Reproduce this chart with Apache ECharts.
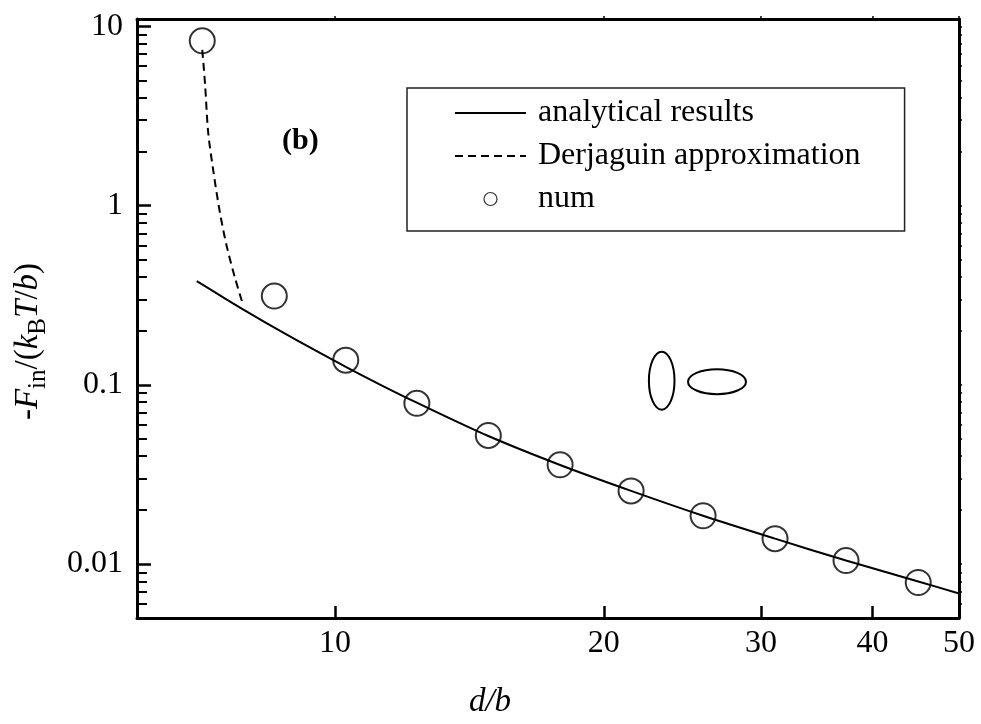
<!DOCTYPE html>
<html>
<head>
<meta charset="utf-8">
<title>-F_in/(k_B T/b) vs d/b</title>
<script src="https://cdn.jsdelivr.net/npm/echarts@6.0.0/dist/echarts.min.js"></script>
<style>
  html, body { margin: 0; padding: 0; background: #fff; }
  #chart { width: 981px; height: 724px; }
</style>
</head>
<body>
<div id="chart"></div>
<script>
// numerical points (circles)
const numX = [7.10, 8.55, 10.28, 12.35, 14.85, 17.87, 21.46, 25.84, 31.11, 37.36, 45.01]
const numY = [8.31, 0.313, 0.1373, 0.0789, 0.0522, 0.0358, 0.0256, 0.0186, 0.01386, 0.01046, 0.00789]

// analytical results (solid line)
const analyticalX = [7.00, 7.5, 8.0, 8.68, 9.45, 10.28, 11.23, 12.35, 14.85, 17.87, 21.46, 25.84, 31.11, 37.36, 45.01, 50]
const analyticalY = [0.379, 0.307, 0.253, 0.200, 0.158, 0.126, 0.1004, 0.0795, 0.0518, 0.0357, 0.0256, 0.0186, 0.01386, 0.01046, 0.0080, 0.00685]

// Derjaguin approximation (dashed line)
const derjaguinX = [7.10, 7.15, 7.21, 7.31, 7.43, 7.56, 7.73, 7.87]
const derjaguinY = [7.40, 4.83, 2.55, 1.53, 0.917, 0.598, 0.391, 0.290]

// ticks
const xTickValues = [10, 20, 30, 40, 50]
const yTickValues = [0.01, 0.1, 1, 10]
const yMinorTickValues = [0.006, 0.007, 0.008, 0.009,
  0.02, 0.03, 0.04, 0.05, 0.06, 0.07, 0.08, 0.09,
  0.2, 0.3, 0.4, 0.5, 0.6, 0.7, 0.8, 0.9,
  2, 3, 4, 5, 6, 7, 8, 9]

const FONT = '"Liberation Serif", "DejaVu Serif", serif'

const pairs = (xs, ys) => xs.map((x, i) => [x, ys[i]])

const chart = echarts.init(document.getElementById('chart'))

const axisLine = { show: true, lineStyle: { color: '#000', width: 3 } }

const option = {
  animation: false,
  backgroundColor: '#fff',
  title: {
    text: '(b)',
    left: 282,
    top: 126,
    padding: 0,
    textStyle: { fontFamily: FONT, fontSize: 30, fontWeight: 'bold', color: '#000' }
  },
  legend: {
    orient: 'vertical',
    left: 407,
    top: 88,
    selectedMode: false,
    borderColor: '#222',
    borderWidth: 1.5,
    padding: [9, 44, 16, 47],
    itemWidth: 71,
    itemHeight: 13,
    itemGap: 11,
    textStyle: { fontFamily: FONT, fontSize: 32, color: '#000', padding: [0, 0, 0, 7] },
    data: [
      { name: 'analytical results', itemStyle: { opacity: 0 } },
      { name: 'Derjaguin approximation', itemStyle: { opacity: 0 } },
      { name: 'num', icon: 'circle', itemStyle: { color: 'rgba(0,0,0,0)', borderColor: '#000', borderWidth: 1.2 } }
    ]
  },
  grid: { left: 137, right: 22, top: 19, bottom: 103, containLabel: false },
  xAxis: [
    {
      type: 'log',
      min: 6,
      max: 50,
      position: 'bottom',
      axisLine: axisLine,
      splitLine: { show: false },
      minorTick: { show: false },
      axisTick: { show: true, inside: true, length: 12, lineStyle: { color: '#000', width: 2.5 }, customValues: xTickValues },
      axisLabel: { customValues: xTickValues, margin: 10, fontFamily: FONT, fontSize: 32, color: '#000' },
      name: 'd/b',
      nameLocation: 'middle',
      nameGap: 68,
      nameTextStyle: { fontFamily: FONT, fontSize: 33, fontStyle: 'italic', color: '#000', padding: [0, 116, 0, 0] }
    },
    {
      type: 'log',
      min: 6,
      max: 50,
      position: 'top',
      axisLine: axisLine,
      splitLine: { show: false },
      axisTick: { show: true, inside: false, length: 3, lineStyle: { color: '#000', width: 1.5 }, customValues: xTickValues },
      axisLabel: { show: false }
    }
  ],
  yAxis: [
    {
      type: 'log',
      min: 0.005,
      max: 11,
      position: 'left',
      axisLine: axisLine,
      splitLine: { show: false },
      axisTick: { show: true, inside: true, length: 14, lineStyle: { color: '#000', width: 2.5 }, customValues: yTickValues },
      axisLabel: { customValues: yTickValues, margin: 14, fontFamily: FONT, fontSize: 32, color: '#000', formatter: v => String(v) },
      name: '{m|-}{i|F}{s|in}{m|/(}{i|k}{s|B}{i|T}{m|/}{i|b}{m|)}',
      nameLocation: 'middle',
      nameRotate: 90,
      nameGap: 92,
      nameTextStyle: {
        padding: [0, 46, 0, 0],
        rich: {
          m: { fontFamily: FONT, fontSize: 33, lineHeight: 33, verticalAlign: 'top', color: '#000' },
          i: { fontFamily: FONT, fontSize: 33, lineHeight: 33, verticalAlign: 'top', fontStyle: 'italic', color: '#000' },
          s: { fontFamily: FONT, fontSize: 25, lineHeight: 25, verticalAlign: 'top', padding: [14, 0, 0, 0], color: '#000' }
        }
      }
    },
    {
      type: 'log',
      min: 0.005,
      max: 11,
      position: 'left',
      axisLine: { show: false },
      splitLine: { show: false },
      axisTick: { show: true, inside: true, length: 10, lineStyle: { color: '#000', width: 2 }, customValues: yMinorTickValues },
      axisLabel: { show: false }
    },
    {
      type: 'log',
      min: 0.005,
      max: 11,
      position: 'right',
      axisLine: axisLine,
      splitLine: { show: false },
      axisTick: { show: true, inside: false, length: 3, lineStyle: { color: '#000', width: 1.5 }, customValues: yTickValues.concat(yMinorTickValues) },
      axisLabel: { show: false }
    }
  ],
  series: [
    {
      name: 'analytical results',
      type: 'line',
      xAxisIndex: 0,
      yAxisIndex: 0,
      data: pairs(analyticalX, analyticalY),
      symbol: 'none',
      smooth: 0.3,
      lineStyle: { color: '#000', width: 2 },
      itemStyle: { color: '#000' }
    },
    {
      name: 'Derjaguin approximation',
      type: 'line',
      xAxisIndex: 0,
      yAxisIndex: 0,
      data: pairs(derjaguinX, derjaguinY),
      symbol: 'none',
      smooth: 0.3,
      lineStyle: { color: '#000', width: 2, type: [8, 5] },
      itemStyle: { color: '#000' }
    },
    {
      name: 'num',
      type: 'scatter',
      xAxisIndex: 0,
      yAxisIndex: 0,
      data: pairs(numX, numY),
      symbol: 'circle',
      symbolSize: 25,
      itemStyle: { color: 'rgba(0,0,0,0)', borderColor: '#000', borderWidth: 2 }
    }
  ],
  graphic: [
    { type: 'ellipse', shape: { cx: 661.7, cy: 380.7, rx: 12.8, ry: 29 }, style: { fill: 'none', stroke: '#000', lineWidth: 2 } },
    { type: 'ellipse', shape: { cx: 717, cy: 381.7, rx: 29, ry: 12.5 }, style: { fill: 'none', stroke: '#000', lineWidth: 2 } }
  ]
}

chart.setOption(option)
</script>
</body>
</html>
